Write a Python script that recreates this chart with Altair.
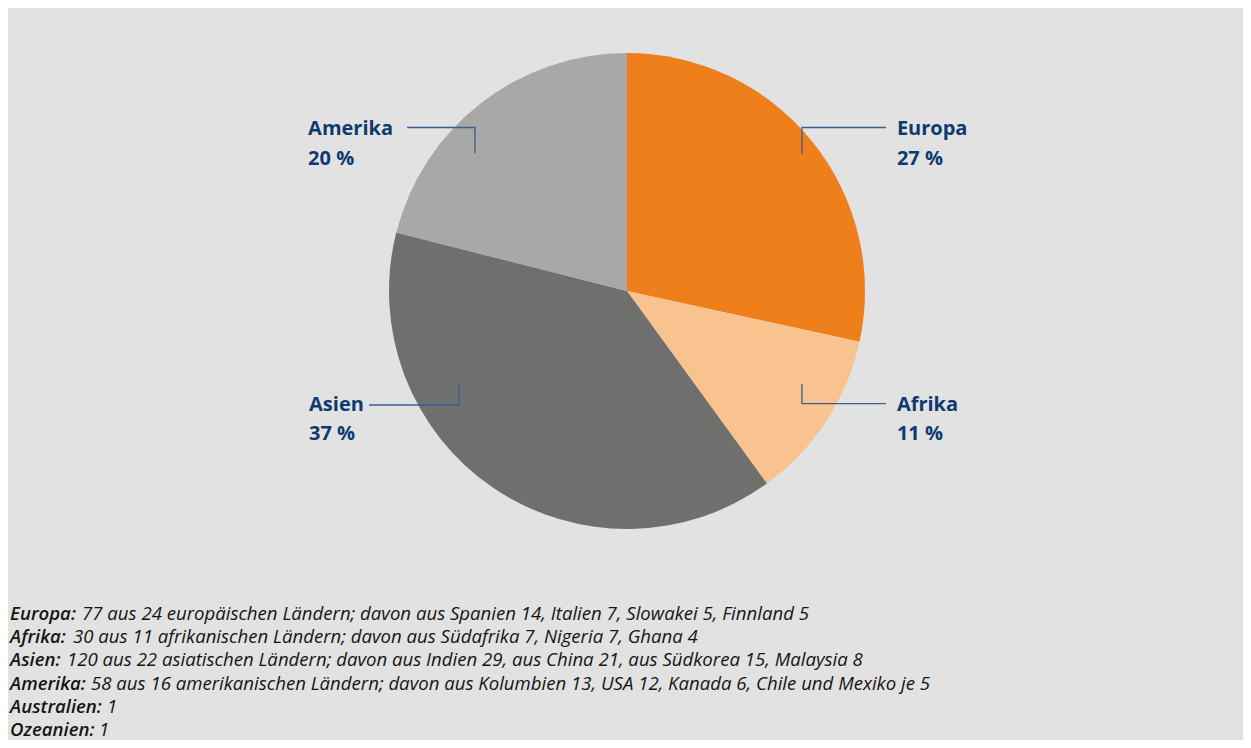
import altair as alt
import pandas as pd

# ---------------- data ----------------
regions = ["Europa", "Afrika", "Asien", "Amerika"]
shares = [27, 11, 37, 20]
pct_labels = ["27 %", "11 %", "37 %", "20 %"]

note_heads = ["Europa:", "Afrika:", "Asien:", "Amerika:", "Australien:", "Ozeanien:"]
note_texts = [
    "77 aus 24 europäischen Ländern; davon aus Spanien 14, Italien 7, Slowakei 5, Finnland 5",
    "30 aus 11 afrikanischen Ländern; davon aus Südafrika 7, Nigeria 7, Ghana 4",
    "120 aus 22 asiatischen Ländern; davon aus Indien 29, aus China 21, aus Südkorea 15, Malaysia 8",
    "58 aus 16 amerikanischen Ländern; davon aus Kolumbien 13, USA 12, Kanada 6, Chile und Mexiko je 5",
    "1",
    "1",
]

# ---------------- style / layout ----------------
colors = ["#EF7F1A", "#F9C38F", "#6F6F6E", "#A8A8A7"]
NAVY = "#0E3A70"
LINE = "#3D5C97"
BG = "#E2E2E2"
FONT = "Open Sans"
FOOT_SIZE = 18.6

W, H = 1235, 732          # whole chart (autosize none, padding 0)
CX, CY, R = 619, 283, 238  # pie centre / radius in pixels

# unit coordinate system: pie centre (0,0), radius 1, y up
xs = alt.Scale(domain=[-1, 1], range=[CX - R, CX + R])
ys = alt.Scale(domain=[-1, 1], range=[CY + R, CY - R])

# leader lines (unit coords)
leaders = {
    "Europa": [(0.735, 0.576), (0.735, 0.687), (1.088, 0.687)],
    "Afrika": [(0.735, -0.391), (0.735, -0.473), (1.088, -0.473)],
    "Asien": [(-0.706, -0.391), (-0.706, -0.479), (-1.084, -0.479)],
    "Amerika": [(-0.639, 0.580), (-0.639, 0.687), (-0.924, 0.687)],
}
# label anchors: (x, y of name, y of percent)
label_pos = {
    "Europa": (1.134, 0.681, 0.555),
    "Afrika": (1.134, -0.477, -0.599),
    "Asien": (-1.336, -0.477, -0.599),
    "Amerika": (-1.340, 0.681, 0.555),
}
FOOT_X = -2.592
FOOT_Y0 = (291 - 620) / R      # baseline of first footnote line
FOOT_STEP = 23.2 / R
rest_start_px = [82, 73, 67, 91, 107, 99]  # screen x where the plain text begins

# ---------------- tables ----------------
pie_df = pd.DataFrame({"region": regions, "share": shares, "idx": range(len(regions))})

lead_rows = []
for reg in regions:
    for k, (x, y) in enumerate(leaders[reg]):
        lead_rows.append({"region": reg, "seq": k, "x": x, "y": y})
lead_df = pd.DataFrame(lead_rows)

lab_rows = []
for reg, pct in zip(regions, pct_labels):
    x, yn, yp = label_pos[reg]
    lab_rows.append({"t": reg, "x": x, "y": yn})
    lab_rows.append({"t": pct, "x": x, "y": yp})
lab_df = pd.DataFrame(lab_rows)

foot_rows = []
for i, (h, t) in enumerate(zip(note_heads, note_texts)):
    y = FOOT_Y0 - i * FOOT_STEP
    foot_rows.append({"head": h, "rest": t, "hx": FOOT_X,
                      "rx": (rest_start_px[i] - 627) / R, "y": y})
foot_df = pd.DataFrame(foot_rows)

# ---------------- layers ----------------
pie = alt.Chart(pie_df).mark_arc(outerRadius=R, stroke=None).encode(
    theta=alt.Theta("share:Q", stack=True),
    color=alt.Color("region:N", scale=alt.Scale(domain=regions, range=colors), legend=None),
    order=alt.Order("idx:Q"),
    x=alt.XDatum(0, type="quantitative", scale=xs, axis=None),
    y=alt.YDatum(0, type="quantitative", scale=ys, axis=None),
)

lines = alt.Chart(lead_df).mark_line(color=LINE, strokeWidth=1.3).encode(
    x=alt.X("x:Q", scale=xs, axis=None),
    y=alt.Y("y:Q", scale=ys, axis=None),
    detail="region:N",
    order="seq:Q",
)

labels = alt.Chart(lab_df).mark_text(
    align="left", baseline="middle", font=FONT, fontWeight="bold", fontSize=20, color=NAVY
).encode(
    x=alt.X("x:Q", scale=xs, axis=None),
    y=alt.Y("y:Q", scale=ys, axis=None),
    text="t:N",
)

heads = alt.Chart(foot_df).mark_text(
    align="left", baseline="alphabetic", font=FONT, fontWeight=600, fontStyle="italic",
    fontSize=FOOT_SIZE, color="#151515"
).encode(
    x=alt.X("hx:Q", scale=xs, axis=None),
    y=alt.Y("y:Q", scale=ys, axis=None),
    text="head:N",
)

rests = alt.Chart(foot_df).mark_text(
    align="left", baseline="alphabetic", font=FONT, fontStyle="italic",
    fontSize=FOOT_SIZE, color="#151515"
).encode(
    x=alt.X("rx:Q", scale=xs, axis=None),
    y=alt.Y("y:Q", scale=ys, axis=None),
    text="rest:N",
)

chart = alt.layer(pie, lines, labels, heads, rests).properties(
    width=W, height=H, background=BG, padding=0,
    autosize=alt.AutoSizeParams(type="none"),
).configure_view(stroke=None)

chart.save("out.html", embed_options={"renderer": "svg", "actions": False})
